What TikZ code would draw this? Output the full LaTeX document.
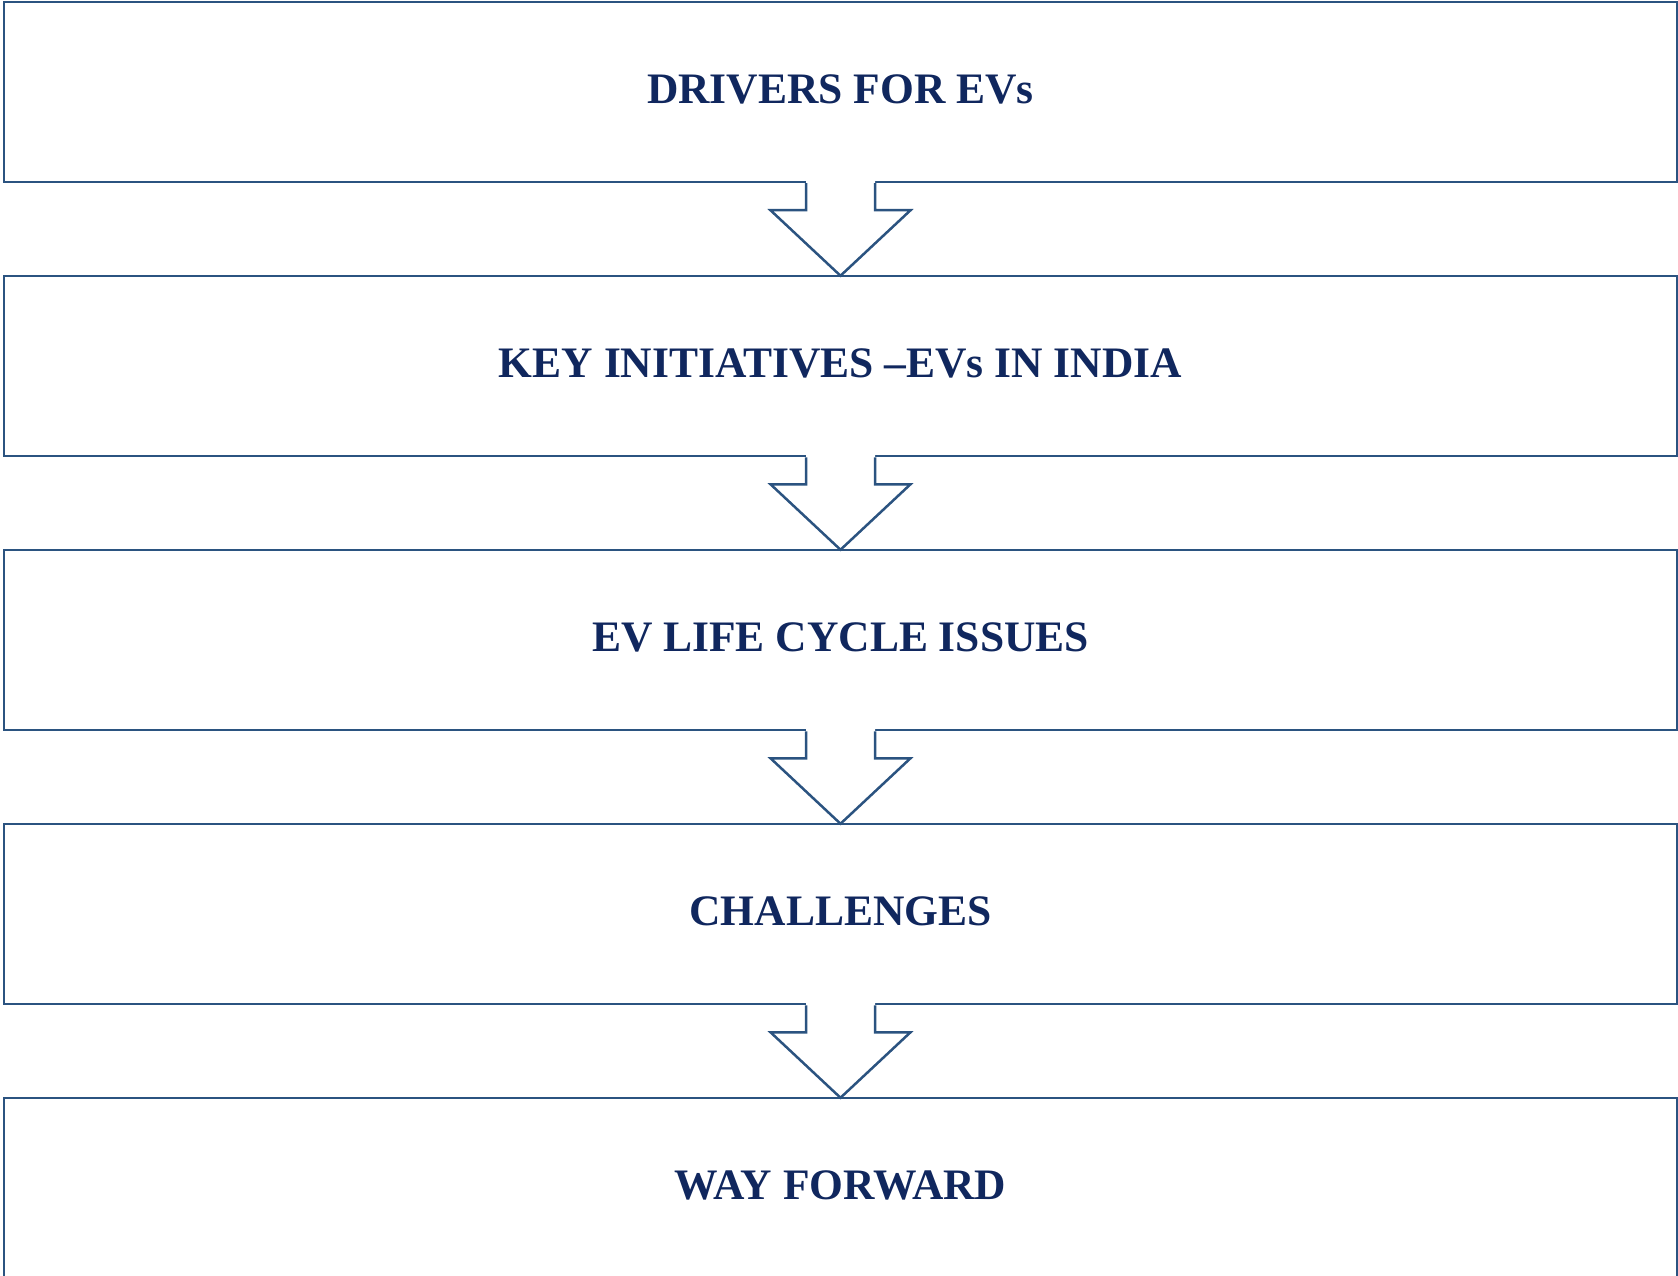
\documentclass[tikz,border=0pt]{standalone}
\usepackage{fontspec}
\setmainfont{Liberation Serif}
\usetikzlibrary{calc}
\definecolor{lineblue}{HTML}{2B5380}
\definecolor{navytext}{HTML}{10275E}
\tikzset{
  stagebox/.style={draw=lineblue, line width=2.5pt, minimum width=1673pt, minimum height=180pt,
    inner sep=0pt, text=navytext, font=\fontsize{43.5}{52}\selectfont\bfseries},
  stagelabel/.style={text=navytext, font=\fontsize{43.5}{52}\selectfont\bfseries, inner sep=0pt},
  flowarrow/.style={draw=lineblue, line width=2.5pt, line join=miter}
}
\begin{document}
\begin{tikzpicture}[x=1pt,y=-1pt]
\useasboundingbox (0,0) rectangle (1678,1276);
\node[stagebox] (b1) at (840.5,92) {};
\node[stagebox] (b2) at (840.5,366) {};
\node[stagebox] (b3) at (840.5,640) {};
\node[stagebox] (b4) at (840.5,914) {};
\node[stagebox] (b5) at (840.5,1188) {};
\node[stagelabel] (t1) at ($(b1.center)+(0,-2.5)$) {DRIVERS FOR EVs};
\node[stagelabel] (t2) at ($(b2.center)+(0,-2.5)$) {KEY INITIATIVES --EVs IN INDIA};
\node[stagelabel] (t3) at ($(b3.center)+(0,-2.5)$) {EV LIFE CYCLE ISSUES};
\node[stagelabel] (t4) at ($(b4.center)+(0,-2.5)$) {CHALLENGES};
\node[stagelabel] (t5) at ($(b5.center)+(0,-2.5)$) {WAY FORWARD};
\foreach \a/\b in {b1/b2,b2/b3,b3/b4,b4/b5}{
  \fill[white] ($(\a.south)+(-34.5,-5)$) -- ($(\a.south)+(-34.5,27)$) -- ($(\a.south)+(-70,27)$)
    -- ($(\b.north)+(0,1)$) -- ($(\a.south)+(70,27)$) -- ($(\a.south)+(34.5,27)$) -- ($(\a.south)+(34.5,-5)$) -- cycle;
  \draw[flowarrow] ($(\a.south)+(-34.5,0)$) -- ($(\a.south)+(-34.5,27)$) -- ($(\a.south)+(-70,27)$)
    -- ($(\b.north)+(0,1)$) -- ($(\a.south)+(70,27)$) -- ($(\a.south)+(34.5,27)$) -- ($(\a.south)+(34.5,0)$);
}
\end{tikzpicture}
\end{document}
